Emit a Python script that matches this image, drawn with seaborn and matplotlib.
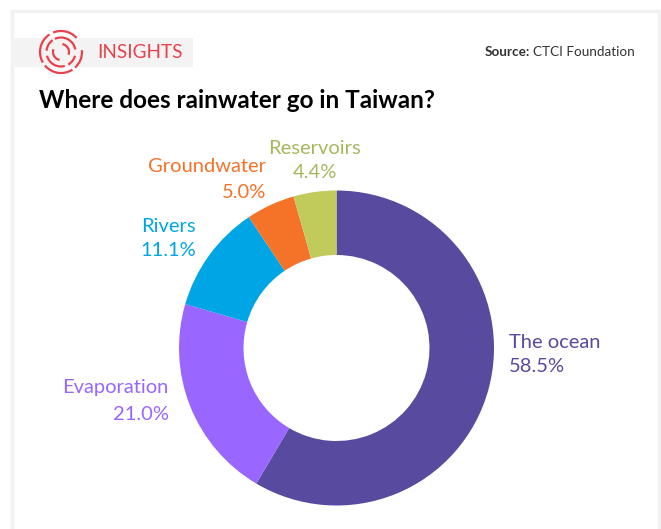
import matplotlib
matplotlib.use("Agg")
import matplotlib.pyplot as plt
from matplotlib.patches import Arc, Rectangle
import seaborn as sns

categories = ["The ocean", "Evaporation", "Rivers", "Groundwater", "Reservoirs"]
shares = [58.5, 21.0, 11.1, 5.0, 4.4]
slice_colors = ["#584B9F", "#9966FF", "#00A5E6", "#F57329", "#C1CB5B"]
label_colors = ["#584B9F", "#9966FF", "#00A5E6", "#F57329", "#A9B65E"]

sns.set_theme(style="white")
plt.rcParams["font.family"] = ["Lato", "DejaVu Sans"]

W, H = 661, 529
fig = plt.figure(figsize=(W / 100, H / 100), dpi=100, facecolor="white")

# Page layer in pixel coordinates for the frame, header and labels
page = fig.add_axes([0, 0, 1, 1])
page.set_xlim(0, W)
page.set_ylim(H, 0)
page.axis("off")

page.add_patch(Rectangle((11.5, 10.5), 647.5, H, fc="white", ec="#F2F2F2", lw=2.5))
page.add_patch(Rectangle((13, 38), 180, 29, fc="#F3F3F3", ec="none"))

# Logo: concentric broken rings
RED = "#E8414B"
cx, cy = 61, 52
rings = [
    (21, [(-112, -42), (-5, 48), (57, 140), (150, 237)]),
    (14.5, [(-115, -10), (15, 60), (75, 165), (185, 235)]),
    (8, [(-80, 20), (100, 200)]),
]
for r, spans in rings:
    for a, b in spans:
        page.add_patch(Arc((cx, cy), 2 * r, 2 * r, theta1=a, theta2=b, color=RED, lw=1.6))

page.text(97, 53, "INSIGHTS", color=RED, fontsize=13.6, va="center", ha="left")
page.text(485, 52, "Source:", color="#333333", fontsize=9.7, fontweight="bold", va="center", ha="left")
page.text(533, 52, "CTCI Foundation", color="#333333", fontsize=9.7, va="center", ha="left")
page.text(39, 100, "Where does rainwater go in Taiwan?", color="#000000", fontsize=17.5,
          fontweight="bold", va="center", ha="left")

# Donut, with axes spanning exactly the outer diameter
center_x, center_y, radius = 336.5, 348, 157.5
donut = fig.add_axes([(center_x - radius) / W, 1 - (center_y + radius) / H,
                      2 * radius / W, 2 * radius / H])
donut.pie(shares, colors=slice_colors, startangle=90, counterclock=False, radius=1,
          wedgeprops=dict(width=1 - 93 / 157.5, clip_on=False, linewidth=0))
donut.set_xlim(-1, 1)
donut.set_ylim(-1, 1)

# Label anchors: x, name centre, value centre, alignment
anchors = [
    (509, 342, 367, "left"),
    (169, 388, 414, "right"),
    (196, 226, 251, "right"),
    (266, 167, 192, "right"),
    (315, 149, 173, "center"),
]
for name, share, color, (x, y1, y2, ha) in zip(categories, shares, label_colors, anchors):
    page.text(x, y1, name, color=color, fontsize=14.5, ha=ha, va="center")
    page.text(x, y2, f"{share:.1f}%", color=color, fontsize=14.5, ha=ha, va="center")

fig.savefig("out.png", dpi=100, facecolor="white")
